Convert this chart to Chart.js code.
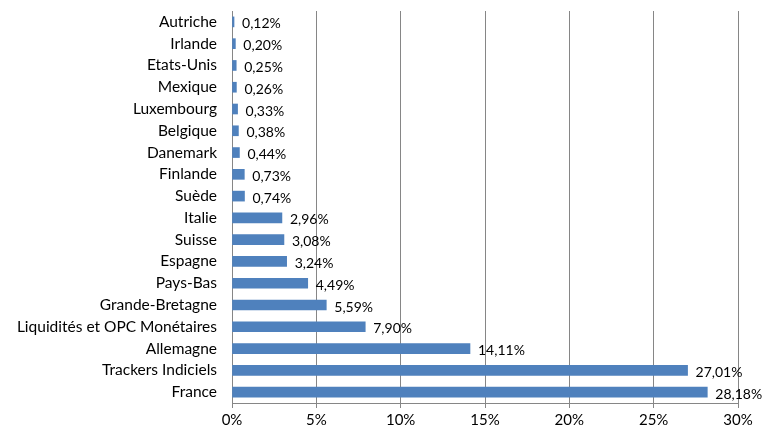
<!DOCTYPE html>
<html>
<head>
<meta charset="utf-8">
<script src="https://cdn.jsdelivr.net/npm/chart.js@4"></script>
<style>
  html, body { margin: 0; padding: 0; background: #fff; }
  #wrap { width: 763px; height: 432px; }
</style>
</head>
<body>
<div id="wrap"><canvas id="myChart" width="763" height="432"></canvas></div>
<script>
// Categories from top to bottom
const categories = ['Autriche', 'Irlande', 'Etats-Unis', 'Mexique', 'Luxembourg', 'Belgique', 'Danemark',
    'Finlande', 'Suède', 'Italie', 'Suisse', 'Espagne', 'Pays-Bas', 'Grande-Bretagne',
    'Liquidités et OPC Monétaires', 'Allemagne', 'Trackers Indiciels', 'France'];
const weights = [0.12, 0.20, 0.25, 0.26, 0.33, 0.38, 0.44, 0.73, 0.74, 2.96, 3.08, 3.24, 4.49, 5.59,
    7.90, 14.11, 27.01, 28.18];
const xTicks = [0, 5, 10, 15, 20, 25, 30];

const fontFamily = 'Lato, "Open Sans", sans-serif';

// Draw the value label just past the end of each bar
const barLabels = {
    id: 'barLabels',
    afterDatasetsDraw(chart) {
        const ctx = chart.ctx;
        const meta = chart.getDatasetMeta(0);
        ctx.save();
        ctx.font = '14px ' + fontFamily;
        ctx.fillStyle = '#000';
        ctx.textAlign = 'left';
        ctx.textBaseline = 'middle';
        meta.data.forEach(function(bar, i) {
            const txt = weights[i].toFixed(2).replace('.', ',') + '%';
            ctx.fillText(txt, bar.x + 8, bar.y + 2);
        });
        ctx.restore();
    }
};

new Chart(document.getElementById('myChart'), {
    type: 'bar',
    data: {
        labels: categories,
        datasets: [{
            data: weights,
            backgroundColor: '#4f81bd',
            borderWidth: 0,
            barThickness: 10
        }]
    },
    options: {
        indexAxis: 'y',
        responsive: false,
        animation: false,
        layout: { padding: { top: 11, right: 25, left: 0, bottom: 0 } },
        plugins: {
            legend: { display: false },
            tooltip: { enabled: false }
        },
        scales: {
            x: {
                min: 0,
                max: 30,
                afterBuildTicks: function(scale) {
                    scale.ticks = xTicks.map(function(v) { return { value: v }; });
                },
                afterFit: function(scale) {
                    scale.height = 29;
                    scale.paddingLeft = 0;
                    scale.paddingRight = 0;
                },
                grid: { color: '#868686', tickLength: 5, lineWidth: 1 },
                border: { color: '#868686' },
                ticks: {
                    color: '#000',
                    padding: 3,
                    font: { family: fontFamily, size: 15 },
                    callback: function(v) { return v + '%'; }
                }
            },
            y: {
                afterFit: function(scale) {
                    scale.width = 232;
                    scale.paddingTop = 0;
                    scale.paddingBottom = 0;
                },
                grid: { display: false, drawTicks: false },
                border: { color: '#868686' },
                ticks: {
                    color: '#000',
                    padding: 15,
                    autoSkip: false,
                    font: { family: fontFamily, size: 15.5 }
                }
            }
        }
    },
    plugins: [barLabels]
});
</script>
</body>
</html>
